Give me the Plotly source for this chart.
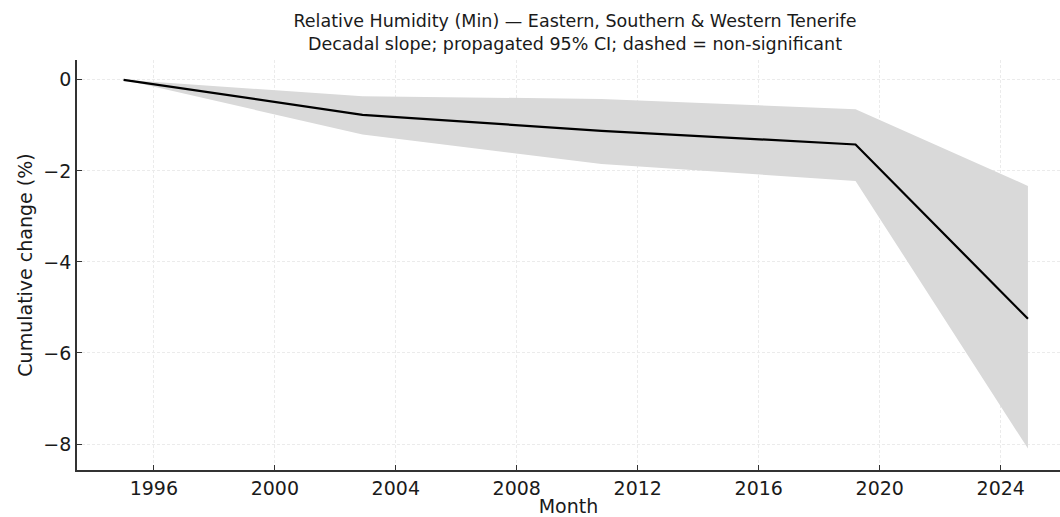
import plotly.graph_objects as go

# Data
years = [1995.0, 2002.9, 2010.8, 2019.2, 2024.9]
cum_change = [0.0, -0.77, -1.12, -1.42, -5.25]
ci_upper = [0.0, -0.36, -0.42, -0.645, -2.33]
ci_lower = [0.0, -1.20, -1.85, -2.22, -8.10]
x_ticks = [1996, 2000, 2004, 2008, 2012, 2016, 2020, 2024]
y_ticks = [0, -2, -4, -6, -8]
y_tick_text = ["0", "\u22122", "\u22124", "\u22126", "\u22128"]

FONT = "DejaVu Sans"

fig = go.Figure()
fig.add_trace(go.Scatter(x=years, y=ci_lower, mode="lines", line=dict(width=0, color="rgba(0,0,0,0)"),
                         showlegend=False, hoverinfo="skip"))
fig.add_trace(go.Scatter(x=years, y=ci_upper, mode="lines", line=dict(width=0, color="rgba(0,0,0,0)"),
                         fill="tonexty", fillcolor="rgb(217,217,217)", showlegend=False, hoverinfo="skip"))
fig.add_trace(go.Scatter(x=years, y=cum_change, mode="lines", line=dict(color="black", width=2.2),
                         showlegend=False))

fig.update_layout(
    width=1060, height=517,
    margin=dict(l=77, r=0, t=60, b=47),
    paper_bgcolor="white", plot_bgcolor="white",
    font=dict(family=FONT, size=19, color="#1a1a1a"),
    title=dict(
        text="Relative Humidity (Min) \u2014 Eastern, Southern & Western Tenerife<br>"
             "Decadal slope; propagated 95% CI; dashed = non-significant",
        x=575 / 1060, xref="container", xanchor="center",
        y=1 - 27 / 517, yref="container", yanchor="top",
        font=dict(family=FONT, size=17.5, color="#1a1a1a"),
    ),
)
fig.update_xaxes(
    range=[1993.46, 2025.96], tickvals=x_ticks, ticktext=[str(t) for t in x_ticks],
    showline=True, linecolor="#333333", linewidth=1.8, mirror=False,
    ticks="inside", ticklen=5, tickwidth=1.2, tickcolor="#333333",
    showgrid=True, gridcolor="#ebebeb", gridwidth=0.7, griddash="3px,2px",
    zeroline=False, ticklabelstandoff=0, automargin=False,
    title=dict(text="Month", standoff=3, font=dict(family=FONT, size=19)),
)
fig.update_yaxes(
    range=[-8.57, 0.435], tickvals=y_ticks, ticktext=y_tick_text,
    showline=True, linecolor="#333333", linewidth=1.8, mirror=False,
    ticks="inside", ticklen=5, tickwidth=1.2, tickcolor="#333333",
    showgrid=True, gridcolor="#ebebeb", gridwidth=0.7, griddash="3px,2px",
    zeroline=False, ticklabelstandoff=0, automargin=False,
    title=dict(text="Cumulative change (%)", standoff=6, font=dict(family=FONT, size=19)),
)

fig.write_html(
    "out.html",
    config={"displayModeBar": False},
    post_script="document.body.style.margin='0';document.body.style.overflow='hidden';"
                "document.documentElement.style.overflow='hidden';",
)
